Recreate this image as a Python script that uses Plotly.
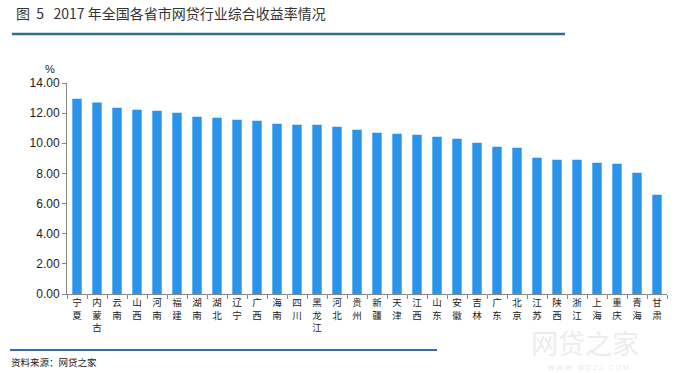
import plotly.graph_objects as go

provinces = ["宁夏", "内蒙古", "云南", "山西", "河南", "福建", "湖南", "湖北", "辽宁", "广西",
             "海南", "四川", "黑龙江", "河北", "贵州", "新疆", "天津", "江西", "山东", "安徽",
             "吉林", "广东", "北京", "江苏", "陕西", "浙江", "上海", "重庆", "青海", "甘肃"]
rates = [12.96, 12.70, 12.36, 12.23, 12.16, 12.03, 11.76, 11.70, 11.56, 11.50,
         11.30, 11.23, 11.23, 11.10, 10.90, 10.70, 10.63, 10.57, 10.44, 10.30,
         10.04, 9.77, 9.71, 9.04, 8.91, 8.91, 8.71, 8.65, 8.05, 6.59]
y_ticks = [0, 2, 4, 6, 8, 10, 12, 14]

title_text = "图\u00a0\u00a05\u00a0\u00a0\u00a02017\u00a0年全国各省市网贷行业综合收益率情况"
source_text = "资料来源：网贷之家"
unit_text = "%"

labels = ["<br>".join(list(p)) for p in provinces]

W, H = 677, 373
L, R, T, B = 67, 10, 83, 79
pw, ph = W - L - R, H - T - B

def px(x):
    return (x - L) / pw

def py(y):
    return (H - B - y) / ph

font_cjk = "Noto Sans CJK SC, Liberation Sans, sans-serif"

fig = go.Figure(go.Bar(
    x=labels, y=rates, marker=dict(color="#2a93ea", line=dict(width=0)),
    hoverinfo="x+y"))

fig.update_layout(
    width=W, height=H, margin=dict(l=L, r=R, t=T, b=B, autoexpand=False),
    plot_bgcolor="white", paper_bgcolor="white",
    bargap=0.53, showlegend=False,
    font=dict(family=font_cjk, color="#222222"),
    xaxis=dict(
        tickmode="array", tickvals=labels, ticktext=labels,
        tickangle=0, tickfont=dict(size=9.5, family=font_cjk, color="#222"),
        showline=True, linecolor="#888888", linewidth=1,
        ticks="outside", tickson="boundaries", ticklen=4, tickcolor="#888888",
        showgrid=False, zeroline=False, automargin=False),
    yaxis=dict(
        range=[0, 14], tickvals=y_ticks, tickformat=".2f",
        tickfont=dict(size=12, family="Liberation Sans, Arial, sans-serif", color="#222"),
        showline=True, linecolor="#888888", linewidth=1,
        ticks="outside", ticklen=4, tickcolor="#888888",
        showgrid=False, zeroline=False, automargin=False),
    shapes=[
        dict(type="line", xref="paper", yref="paper", x0=px(12), x1=px(565), y0=py(34), y1=py(34),
             line=dict(color="#2d6f96", width=2.5)),
        dict(type="line", xref="paper", yref="paper", x0=px(10), x1=px(437), y0=py(350), y1=py(350),
             line=dict(color="#2f6db0", width=2)),
    ],
    annotations=[
        dict(text=title_text, xref="paper", yref="paper", x=px(14), y=py(13),
             xanchor="left", yanchor="middle", showarrow=False,
             font=dict(size=14, color="#333333", family=font_cjk)),
        dict(text=unit_text, xref="paper", yref="paper", x=px(50), y=py(69),
             xanchor="center", yanchor="middle", showarrow=False,
             font=dict(size=11, color="#222", family="Liberation Sans, Arial")),
        dict(text=source_text, xref="paper", yref="paper", x=px(9), y=py(362),
             xanchor="left", yanchor="middle", showarrow=False,
             font=dict(size=9.5, color="#222", family=font_cjk)),
        dict(text="网贷之家", xref="paper", yref="paper", x=px(585), y=py(342),
             xanchor="center", yanchor="middle", showarrow=False,
             font=dict(size=27, color="rgba(190,190,190,0.3)", family=font_cjk)),
        dict(text="W W W . W D Z J . C O M", xref="paper", yref="paper", x=px(588), y=py(367),
             xanchor="center", yanchor="middle", showarrow=False,
             font=dict(size=7, color="rgba(190,190,190,0.4)", family="Liberation Sans")),
    ],
)

fig.write_html("out.html", config={"displayModeBar": False},
               post_script="document.body.style.margin='0';document.body.style.padding='0';")
